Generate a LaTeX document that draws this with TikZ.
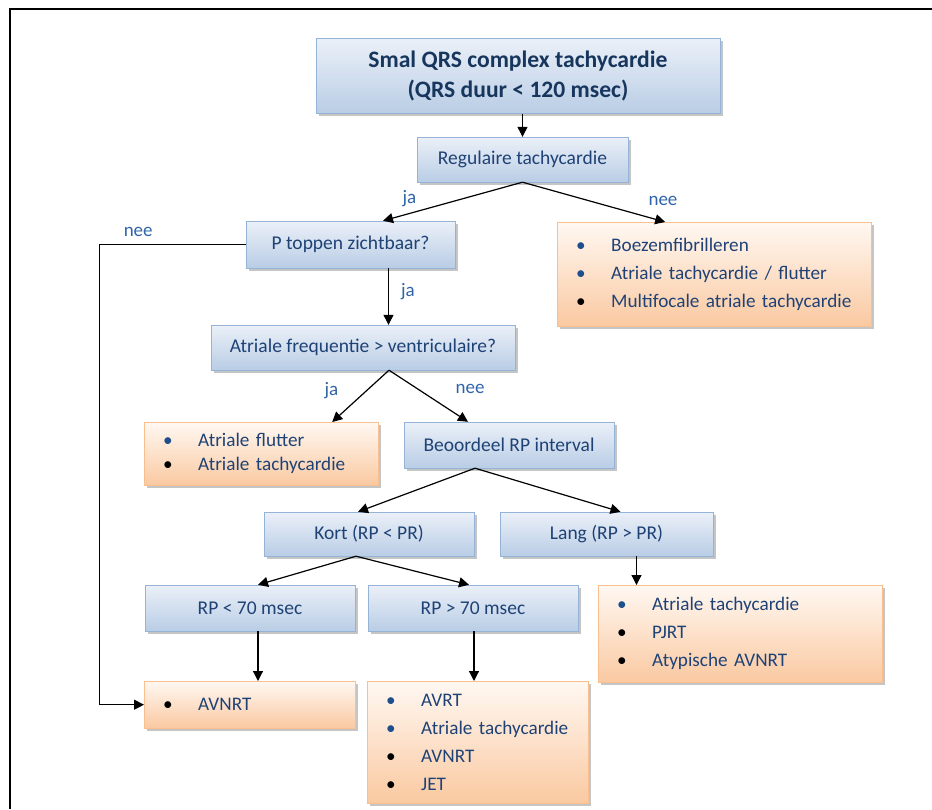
\documentclass[tikz,border=0pt]{standalone}
\usepackage{fontspec}
\setmainfont{Carlito}
\usetikzlibrary{arrows.meta,shadows}

\definecolor{boxtxt}{HTML}{1F4276}
\definecolor{titletxt}{HTML}{17365D}
\definecolor{lblblue}{HTML}{2F64A8}
\definecolor{bulblue}{HTML}{1F4E8C}
\definecolor{blueline}{HTML}{95B3D7}
\definecolor{bluetop}{HTML}{EBF0F8}
\definecolor{bluebot}{HTML}{B9CDE5}
\definecolor{orline}{HTML}{F9BF8F}
\definecolor{ortop}{HTML}{FFF8F2}
\definecolor{orbot}{HTML}{FAC9A1}

% bullet line in the result boxes
\newcommand{\itm}[2]{\mbox{\makebox[35pt][l]{\textcolor{#1}{\textbullet}}#2}}

\begin{document}
\begin{tikzpicture}[x=1pt,y=-1pt,
  bluebox/.style={draw=blueline, top color=bluetop, bottom color=bluebot, text=boxtxt,
    font=\fontsize{19.5}{23}\selectfont, minimum width=210pt, minimum height=46pt, inner sep=0pt,
    drop shadow={shadow xshift=2.5pt, shadow yshift=-2.5pt, fill=black!45, opacity=.5}},
  orbox/.style={draw=orline, top color=ortop, bottom color=orbot, text=boxtxt,
    font=\fontsize{19.2}{28}\selectfont, align=left, anchor=north west, inner xsep=19pt, inner ysep=0pt,
    drop shadow={shadow xshift=2.5pt, shadow yshift=-2.5pt, fill=black!45, opacity=.5}},
  arr/.style={-{Triangle[length=10pt,width=10pt]}, line width=1.2pt},
  lbl/.style={text=lblblue, font=\fontsize{19}{23}\selectfont, anchor=base west, inner sep=0pt}]

\useasboundingbox (0,0) rectangle (932,809);
\draw[line width=2pt] (10,809) -- (10,9) -- (932,9);

% vragen
\node[bluebox, minimum width=404pt, minimum height=75pt, align=center, text=titletxt,
  font=\bfseries\fontsize{23.6}{30}\selectfont] (smal) at (518,76) {Smal QRS complex tachycardie\\(QRS duur < 120 msec)};
\node[bluebox, minimum width=211pt, minimum height=45pt] (regul) at (522.5,159.5) {Regulaire tachycardie};
\node[bluebox, minimum width=209pt, minimum height=47pt] (ptop) at (350.5,244.5) {P toppen zichtbaar?};
\node[bluebox, minimum width=304pt, minimum height=45pt] (afreq) at (363,347.5) {Atriale frequentie > ventriculaire?};
\node[bluebox] (beoord) at (509,445) {Beoordeel RP interval};
\node[bluebox, minimum height=44pt] (kort) at (369,534) {Kort (RP < PR)};
\node[bluebox, minimum width=213pt, minimum height=44pt] (lang) at (606.5,534) {Lang (RP > PR)};
\node[bluebox] (rpklein) at (250,608) {RP < 70 msec};
\node[bluebox] (rpgroot) at (473,608) {RP > 70 msec};

% uitkomsten
\node[orbox, text width=276pt, minimum height=104pt] (boezem) at (557,222)
  {\itm{bulblue}{Boezemfibrilleren}\\\itm{bulblue}{Atriale tachycardie / flutter}\\\itm{black}{Multifocale atriale tachycardie}};
\node[orbox, text width=196pt, minimum height=63pt, font=\fontsize{19.2}{24}\selectfont] (flutter) at (144,422)
  {\itm{bulblue}{Atriale flutter}\\\itm{black}{Atriale tachycardie}};
\node[orbox, text width=173pt, minimum height=47pt] (avnrt) at (144,681) {\itm{black}{AVNRT}};
\node[orbox, text width=183pt, minimum height=122pt] (kortlijst) at (367,681)
  {\itm{bulblue}{AVRT}\\\itm{bulblue}{Atriale tachycardie}\\\itm{black}{AVNRT}\\\itm{black}{JET}};
\node[orbox, text width=246pt, minimum height=97pt] (langlijst) at (598,585)
  {\itm{bulblue}{Atriale tachycardie}\\\itm{black}{PJRT}\\\itm{black}{Atypische AVNRT}};

% pijlen
\draw[arr] (regul.north |- smal.south) -- (regul.north);
\draw[arr] (regul.south) -- node[lbl, pos=.8, xshift=-9pt, yshift=10pt] {ja} ([xshift=32.5pt]ptop.north);
\draw[arr] (regul.south) -- node[lbl, pos=.9, xshift=-3pt, yshift=13pt] {nee} ([xshift=-49pt]boezem.north);
\draw[arr] (ptop.west) -- node[lbl, pos=.84, yshift=8pt] {nee} ++(-146,0) |- (avnrt.west);

\coordinate (pja) at ([xshift=38pt]ptop.south);
\draw[arr] (pja) -- node[lbl, xshift=12pt] {ja} (pja |- afreq.north);
\draw[arr] ([xshift=26pt]afreq.south) -- node[lbl, xshift=-36.5pt, yshift=.5pt] {ja} ([xshift=71pt]flutter.north);
\draw[arr] ([xshift=26pt]afreq.south) -- node[lbl, xshift=26.5pt, yshift=2.5pt] {nee} ([xshift=-41pt]beoord.north);

\draw[arr] ([xshift=-34pt]beoord.south) -- ([xshift=-11pt]kort.north);
\draw[arr] ([xshift=-34pt]beoord.south) -- ([xshift=14pt]lang.north);
\draw[arr] ([xshift=-13pt]kort.south) -- ([xshift=8pt]rpklein.north);
\draw[arr] ([xshift=-13pt]kort.south) -- ([xshift=-4pt]rpgroot.north);

\coordinate (langvan) at ([xshift=30pt]lang.south);
\draw[arr] (langvan) -- (langvan |- langlijst.north);
\coordinate (kleinvan) at ([xshift=8pt]rpklein.south);
\draw[arr] (kleinvan) -- (kleinvan |- avnrt.north);
\coordinate (grootvan) at ([xshift=1pt]rpgroot.south);
\draw[arr] (grootvan) -- (grootvan |- kortlijst.north);

\end{tikzpicture}
\end{document}
